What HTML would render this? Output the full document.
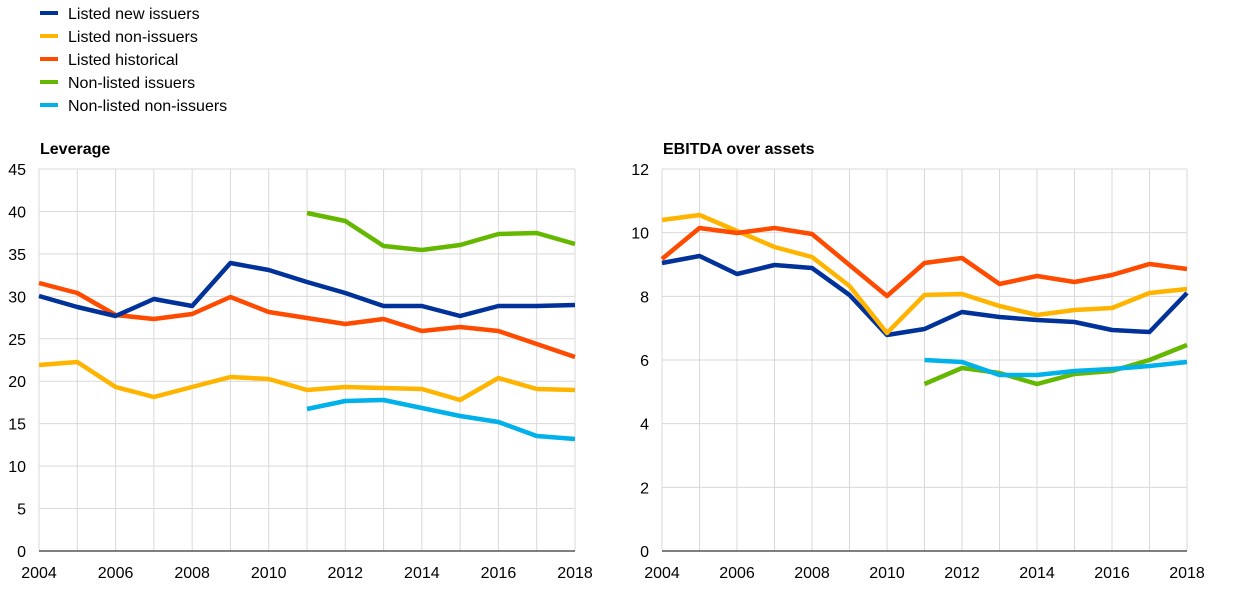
<!DOCTYPE html>
<html><head><meta charset="utf-8"><style>
body{margin:0;background:#fff;}
svg{display:block;font-family:"Liberation Sans",Arial,sans-serif;}
</style></head><body>
<svg id="s" width="1240" height="590" xmlns="http://www.w3.org/2000/svg"></svg>
<script>
const s=document.getElementById('s');let h='';
const C={b:'#003299',y:'#ffb400',r:'#ff4b00',g:'#65b800',c:'#00b1ea'};
[['b','Listed new issuers'],['y','Listed non-issuers'],['r','Listed historical'],['g','Non-listed issuers'],['c','Non-listed non-issuers']].forEach((l,i)=>{
 const y=13+i*23;h+=`<line x1="40" x2="58" y1="${y}" y2="${y}" stroke="${C[l[0]]}" stroke-width="4"/><text x="68" y="${y+6}" font-size="16" fill="#000">${l[1]}</text>`;});
function chart(x0,x1,title,maxv,step,data){
 const y0=551,yt=169;
 h+=`<text x="${x0+1}" y="154" font-size="16" font-weight="bold">${title}</text>`;
 for(let k=0;k<=14;k++){const x=x0+(x1-x0)*k/14;h+=`<line x1="${x}" x2="${x}" y1="${yt}" y2="${y0}" stroke="#d9d9d9" stroke-width="1"/>`;}
 for(let v=0;v<=maxv;v+=step){const y=y0-(y0-yt)*v/maxv;h+=`<line x1="${x0}" x2="${x1}" y1="${y}" y2="${y}" stroke="#d9d9d9"/><text x="${x0-13}" y="${y+6}" font-size="16" text-anchor="end">${v}</text>`;}
 for(let yr=2004;yr<=2018;yr+=2){const x=x0+(x1-x0)*(yr-2004)/14;h+=`<text x="${x}" y="578" font-size="16" text-anchor="middle">${yr}</text>`;}
 h+=`<line x1="${x0}" x2="${x1}" y1="${y0}" y2="${y0}" stroke="#000"/>`;
 data.forEach(([c,st,ys])=>{const p=ys.map((y,i)=>`${x0+(x1-x0)*(st+i)/14},${y}`).join(' ');h+=`<polyline points="${p}" fill="none" stroke="${C[c]}" stroke-width="4.5" stroke-linejoin="round"/>`;});
}
chart(39,575,'Leverage',45,5,[
 ['y',0,[365,362,387,397,387,377,379,390,387,388,389,400,378,389,390]],
 ['r',0,[283,293,315,319,314,297,312,318,324,319,331,327,331,344,357]],
 ['b',0,[296,307,316,299,306,263,270,282,293,306,306,316,306,306,305]],
 ['g',7,[213,221,246,250,245,234,233,244]],
 ['c',7,[409,401,400,408,416,422,436,439]]]);
chart(662,1187,'EBITDA over assets',12,2,[
 ['b',0,[263,256,274,265,268,295,335,329,312,317,320,322,330,332,293]],
 ['y',0,[220,215,231,247,257,286,333,295,294,306,315,310,308,293,289]],
 ['r',0,[259,228,233,228,234,265,296,263,258,284,276,282,275,264,269]],
 ['g',7,[384,368,373,384,374,371,360,345]],
 ['c',7,[360,362,375,375,371,369,366,362]]]);
s.innerHTML=h;
</script>
</body></html>
